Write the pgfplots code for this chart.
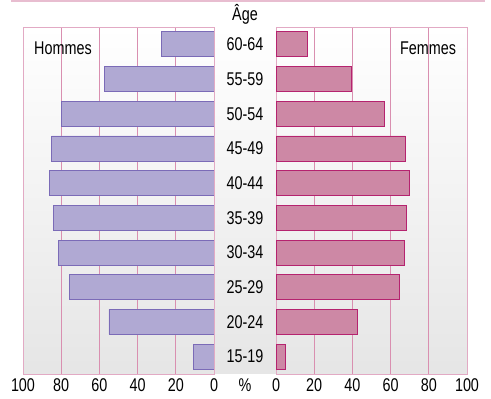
\documentclass[border=0pt]{standalone}
\usepackage{fontspec}
\setmainfont[FakeStretch=0.78]{Liberation Sans}
\usepackage{pgfplots}
\pgfplotsset{compat=1.18}
\definecolor{menfill}{HTML}{B0A9D3}
\definecolor{mendraw}{HTML}{7B6BB7}
\definecolor{womfill}{HTML}{CD88A5}
\definecolor{womdraw}{HTML}{B5236F}
\definecolor{gridpink}{HTML}{D98FB0}
\definecolor{framepink}{HTML}{E2AAC4}
\definecolor{toppink}{HTML}{E8BDD0}
\pgfplotsset{
  pyr/.style={
    scale only axis, width=191bp, height=347bp,
    xmin=0, xmax=100, ymin=-0.5, ymax=9.5,
    xtick={0,20,...,100}, ytick=\empty,
    xmajorgrids, major grid style={draw=gridpink, line width=0.8pt},
    axis line style={draw=framepink, line width=0.9pt},
    major tick length=0pt,
    xbar, bar width=0.72,
    /pgf/number format/assume math mode=true,
    every tick label/.append style={font=\fontsize{18.5}{22}\selectfont},
    xticklabel style={yshift=-1bp},
  }
}
\begin{document}
\begin{tikzpicture}[font=\fontsize{18.5}{22}\selectfont]
\shade[top color=white, bottom color=black!10] (0,0) rectangle (444bp,347bp);
\draw[toppink, line width=2.2pt] (-12bp,373bp) -- (462bp,373bp);
\begin{axis}[pyr, at={(0,0)}, anchor=south west, x dir=reverse]
\addplot[fill=menfill, draw=mendraw, line width=0.8pt] coordinates {
(10.6,0) (55.0,1) (75.9,2) (81.3,3) (83.9,4) (86.2,5) (85.0,6) (80.1,7) (57.4,8) (27.7,9)};
\end{axis}
\begin{axis}[pyr, at={(253bp,0)}, anchor=south west,
  ytick={0,...,9}, yticklabel pos=left,
  yticklabels={15-19,20-24,25-29,30-34,35-39,40-44,45-49,50-54,55-59,60-64},
  yticklabel style={anchor=center, xshift=-31bp}]
\addplot[fill=womfill, draw=womdraw, line width=0.8pt] coordinates {
(4.9,0) (42.6,1) (64.4,2) (67.2,3) (68.4,4) (70.0,5) (67.7,6) (57.0,7) (39.4,8) (16.4,9)};
\end{axis}
\node at (222bp,360bp) {Âge};
\node at (222bp,-11bp) {\%};
\node at (40bp,326bp) {Hommes};
\node at (405bp,326bp) {Femmes};
\pgfresetboundingbox
\path[use as bounding box] (-23bp,-25bp) rectangle (468bp,374bp);
\end{tikzpicture}
\end{document}
